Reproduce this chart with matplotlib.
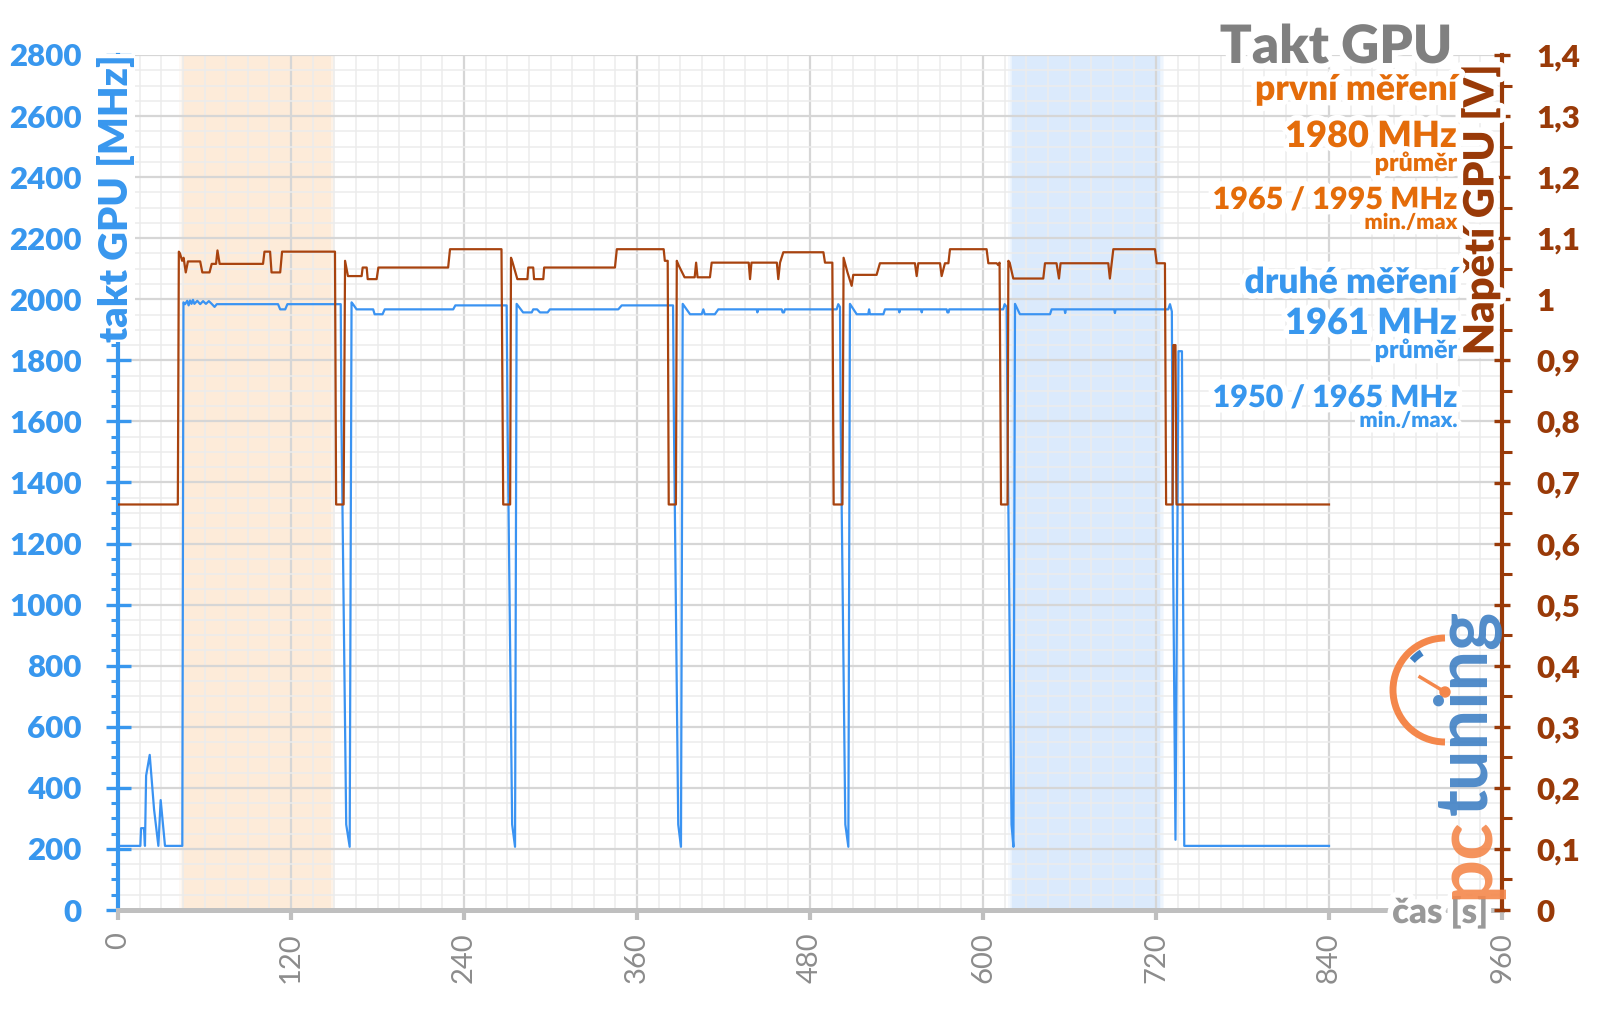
import matplotlib
matplotlib.use("Agg")
import matplotlib.pyplot as plt
import matplotlib.patheffects as pe
from matplotlib.patches import Arc, Circle
from matplotlib.ticker import MultipleLocator

plt.rcParams['font.family'] = ['Lato', 'DejaVu Sans']

# takt GPU [MHz] -- (cas [s], hodnota)
takt = [
    (0, 210), (15.5, 210), (16, 268), (18, 268), (18.7, 210), (19.5, 440), (22, 508),
    (25, 330), (28, 210), (29.6, 360), (32.6, 210), (44.6, 210),
    # 1. beh
    (45.4, 1990), (46.5, 1984), (48, 1995), (49, 1980), (50, 1996), (51, 1985), (52, 1998),
    (53, 1985), (55, 1995), (57, 1984), (59, 1994), (61, 1985), (63, 1994), (65, 1985),
    (67, 1975), (68.5, 1984), (111, 1984), (112.5, 1967), (116, 1967), (117.5, 1984),
    (154.5, 1984), (155, 1600), (158.3, 280), (160.7, 207),
    # 2. beh
    (162, 1990), (163, 1984), (165.5, 1967), (177, 1967), (178, 1951), (183.5, 1951),
    (185, 1967), (232.5, 1967), (234, 1980), (269.6, 1980), (270.2, 1600), (273.4, 280),
    (275.4, 207),
    # 3. beh
    (276.5, 1985), (281, 1957), (287, 1957), (288, 1967), (290.7, 1967), (292.7, 1957),
    (298, 1957), (299.6, 1967), (347, 1967), (349.4, 1980), (385, 1980), (385.6, 1600),
    (388.6, 280), (390.5, 207),
    # 4. beh
    (391.7, 1985), (396.8, 1951), (404.9, 1951), (406, 1967), (407, 1951), (414, 1951),
    (416.4, 1967), (443, 1967), (443.5, 1957), (444, 1967), (460.4, 1967), (461, 1957),
    (462, 1957), (462.6, 1967), (498.5, 1967), (499.6, 1984), (500.8, 1975), (501.3, 1600),
    (504.5, 280), (506.6, 207),
    # 5. beh
    (507.7, 1985), (512.4, 1951), (520.4, 1951), (521, 1967), (521.6, 1951), (530.9, 1951),
    (532, 1967), (541.5, 1967), (542, 1957), (542.5, 1967), (557, 1967), (557.5, 1957),
    (558, 1967), (574.8, 1967), (575.3, 1957), (576.1, 1957), (576.6, 1967), (614, 1967),
    (615, 1984), (616.4, 1975), (617, 1600), (619.8, 280), (621.1, 207),
    # 6. beh
    (622.2, 1985), (625.6, 1951), (646.5, 1951), (647.6, 1967), (656.5, 1967), (657, 1955),
    (657.5, 1967), (691, 1967), (691.5, 1955), (692, 1967), (728.5, 1967), (729.7, 1984),
    (731, 1960), (731.6, 1300), (733.5, 230), (735.6, 1830), (738, 1830), (739.6, 210),
    (840, 210),
]

# napeti GPU [V]
napeti = [
    (0, 0.664), (41.5, 0.664),
    (42.2, 1.078), (43, 1.075), (44.5, 1.063), (45.5, 1.068), (47, 1.044), (48.5, 1.062),
    (57, 1.062), (58.5, 1.044), (63.5, 1.044), (65, 1.058), (68, 1.058), (69, 1.08),
    (70.5, 1.058), (100.6, 1.058), (101.6, 1.078), (105.5, 1.078), (106.5, 1.044),
    (112.5, 1.044), (113.8, 1.078), (150.5, 1.078), (151.3, 0.664),
    (156.5, 0.664), (157.5, 1.063), (159.5, 1.038), (169, 1.038), (169.7, 1.052),
    (172.5, 1.052), (173.2, 1.033), (179.4, 1.033), (180.6, 1.052), (229, 1.052),
    (230.3, 1.082), (266, 1.082), (267.2, 0.664),
    (272, 0.664), (272.6, 1.068), (273.5, 1.062), (277, 1.033), (284, 1.033), (284.6, 1.052),
    (288, 1.052), (288.6, 1.033), (295, 1.033), (295.6, 1.052), (344.7, 1.052), (346, 1.082),
    (378.5, 1.082), (379.3, 1.063), (381.3, 1.063), (382, 0.664),
    (387, 0.664), (387.6, 1.063), (389, 1.055), (393, 1.036), (400, 1.036), (401, 1.06),
    (402, 1.036), (410.6, 1.036), (411.8, 1.06), (437.5, 1.06), (438.4, 1.033), (439.4, 1.06),
    (457, 1.06), (458, 1.033), (459.2, 1.06), (461.5, 1.077), (489.3, 1.077), (490.4, 1.06),
    (495.5, 1.06), (496.4, 0.664),
    (502.5, 0.664), (503.3, 1.068), (506, 1.044), (508.9, 1.022), (510, 1.04), (526.2, 1.04),
    (528.5, 1.059), (552.8, 1.059), (554, 1.038), (555.1, 1.059), (570.2, 1.059),
    (571.3, 1.038), (573.6, 1.059), (576, 1.059), (577.1, 1.082), (602.5, 1.082),
    (603.7, 1.059), (609.5, 1.059), (610.5, 1.056), (611.5, 1.06), (612.5, 0.664),
    (617, 0.664), (617.6, 1.063), (618.5, 1.06), (621, 1.034), (641.8, 1.034), (643, 1.059),
    (651, 1.059), (652.7, 1.034), (653.8, 1.059), (686.9, 1.059), (688, 1.034),
    (690.4, 1.082), (719.3, 1.082), (720.5, 1.059), (726.2, 1.059), (727, 0.664),
    (731.5, 0.664), (732, 0.925), (733.5, 0.925), (734.2, 0.664), (840, 0.664),
]

prvni_okno = (45, 148)
druhe_okno = (620, 723)

x_ticks = [0, 120, 240, 360, 480, 600, 720, 840, 960]
y_ticks = list(range(0, 2801, 200))
v_ticks = [i / 10 for i in range(15)]

BLUE = '#3897ee'
BLUE_LINE = '#3a93f2'
BROWN = '#993a08'
BROWN_LINE = '#a8430f'
ORANGE = '#e46c0a'
GRAY = '#808080'
W = 'heavy'

fig = plt.figure(figsize=(16, 10.09), dpi=100)
ax = fig.add_axes([118 / 1600, 99 / 1009, 1384 / 1600, 855 / 1009])
ax2 = ax.twinx()

# zvyraznena mereni
def okno(od, do, barva):
    ax.axvspan(od, do, color=barva, lw=0, zorder=0.2)
    for k in range(1, 4):
        ax.axvspan(od - k * 0.8, do + k * 0.8, color=barva, alpha=0.25, lw=0, zorder=0.1)

okno(*prvni_okno, '#fdebd9')
okno(*druhe_okno, '#dbeafc')

ax.plot([p[0] for p in takt], [p[1] for p in takt], color=BLUE_LINE, lw=1.6, zorder=3)
ax2.plot([p[0] for p in napeti], [p[1] for p in napeti], color=BROWN_LINE, lw=1.6, zorder=3)

ax.set_xlim(0, 960)
ax.set_ylim(0, 2800)
ax2.set_ylim(0, 1.4)

ax.set_axisbelow(True)
ax.xaxis.set_minor_locator(MultipleLocator(15))
ax.yaxis.set_minor_locator(MultipleLocator(50))
ax.grid(which='major', color='#d6d6d6', lw=1.6)
ax.grid(which='minor', color='#ececec', lw=1.1)

for s in ['top', 'right']:
    ax.spines[s].set_visible(False)
for s in ['top', 'left', 'bottom']:
    ax2.spines[s].set_visible(False)
ax.spines['left'].set_color(BLUE)
ax.spines['left'].set_linewidth(3)
ax.spines['bottom'].set_color('#bfbfbf')
ax.spines['bottom'].set_linewidth(3.6)
ax2.spines['right'].set_color(BROWN)
ax2.spines['right'].set_linewidth(3)

ax.set_xticks(x_ticks)
ax.set_xticklabels([str(t) for t in x_ticks], rotation=90)
ax.tick_params(axis='x', which='major', direction='out', length=7, width=3,
               color='#bfbfbf', labelsize=21, labelcolor='#8c8c8c', pad=9)
ax.tick_params(axis='x', which='minor', length=0)

ax.set_yticks(y_ticks)
ax.set_yticklabels([str(t) for t in y_ticks], fontweight=W)
ax.tick_params(axis='y', which='major', direction='inout', length=18, width=2.4,
               color=BLUE, labelsize=22.5, labelcolor=BLUE, pad=17)
ax.tick_params(axis='y', which='minor', direction='out', length=5, width=2.2, color=BLUE)

ax2.set_yticks(v_ticks)
ax2.set_yticklabels([f"{v:.1f}".replace('.', ',').replace(',0', '') for v in v_ticks],
                    fontweight=W)
ax2.yaxis.set_minor_locator(MultipleLocator(0.05))
ax2.tick_params(axis='y', which='major', direction='inout', length=11.5, width=2.4,
                color=BROWN, labelsize=22.5, labelcolor=BROWN, pad=19)
ax2.tick_params(axis='y', which='minor', direction='out', length=7, width=2.2, color=BROWN)

# popisky v pixelech
ov = fig.add_axes([0, 0, 1, 1], zorder=5)
ov.set_xlim(0, 1600)
ov.set_ylim(1009, 0)
ov.axis('off')
ov.patch.set_alpha(0)

glow = [pe.withStroke(linewidth=8, foreground='white')]

ov.text(116, 54, 'takt GPU [MHz]', rotation=90, ha='center', va='top', color=BLUE,
        fontsize=28.5, fontweight=W,
        bbox=dict(facecolor='white', edgecolor='none', pad=0))
ov.text(1481, 65, 'Napětí GPU [V]', rotation=90, ha='center', va='top', color=BROWN,
        fontsize=30, fontweight=W, path_effects=glow)
ov.text(1488, 912, 'čas [s]', ha='right', va='center', color='#999999',
        fontsize=25, fontweight=W, path_effects=glow)

ov.text(1452, 63, 'Takt GPU', ha='right', va='baseline', color=GRAY,
        fontsize=38, fontweight=W, path_effects=glow)

X_R = 1457
popisky = [
    ('první měření', 100, 25.5, ORANGE),
    ('1980 MHz', 147, 26, ORANGE),
    ('průměr', 171, 18, ORANGE),
    ('1965 / 1995 MHz', 209, 22, ORANGE),
    ('min./max', 229, 15.5, ORANGE),
    ('druhé měření', 293, 25.5, BLUE),
    ('1961 MHz', 334, 26, BLUE),
    ('průměr', 358, 18, BLUE),
    ('1950 / 1965 MHz', 407, 22, BLUE),
    ('min./max.', 427, 15.5, BLUE),
]
for txt, y, size, col in popisky:
    ov.text(X_R, y, txt, ha='right', va='baseline', color=col, fontsize=size,
            fontweight=W, path_effects=glow)

# logo pctuning
LOGO_O = '#f4874b'
LOGO_B = '#3f80c4'
ov.text(1466, 899, 'pc', rotation=90, ha='center', va='bottom', color=LOGO_O,
        fontsize=56, fontweight='bold', alpha=0.9)
ov.text(1466, 815, 'tuning', rotation=90, ha='center', va='bottom', color=LOGO_B,
        fontsize=52, fontweight='bold', alpha=0.9)
ov.add_patch(Arc((1445, 690), 104, 104, theta1=90, theta2=270, color=LOGO_O, lw=5))
ov.add_patch(Arc((1445, 690), 88, 88, theta1=222, theta2=238, color=LOGO_B, lw=5))
ov.plot([1445, 1420], [692, 677], color=LOGO_O, lw=2.5)
ov.add_patch(Circle((1445, 692), 5, color=LOGO_O))

fig.savefig('out.png', dpi=100, facecolor='white')
